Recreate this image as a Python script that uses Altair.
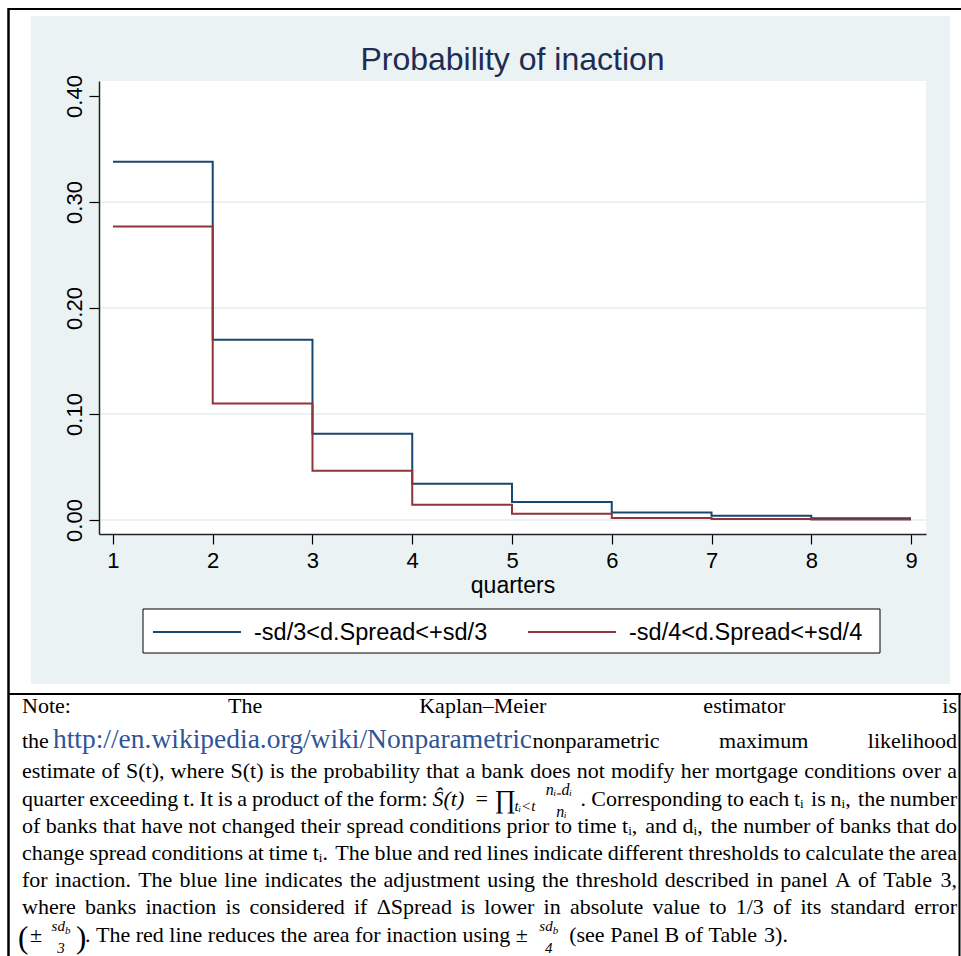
import altair as alt
import pandas as pd

# ---------------- chart data ----------------
quarters = [1, 2, 3, 4, 5, 6, 7, 8, 9]
inaction_sd3 = [0.338, 0.170, 0.0815, 0.0343, 0.0170, 0.0072, 0.0040, 0.0016, 0.0016]
inaction_sd4 = [0.277, 0.110, 0.0465, 0.0145, 0.0060, 0.0020, 0.0010, 0.0004, 0.0004]
series_names = ["-sd/3<d.Spread<+sd/3", "-sd/4<d.Spread<+sd/4"]
series_colors = ["#1a476f", "#90353b"]
y_tick_values = [0.0, 0.1, 0.2, 0.3, 0.4]
y_grid_values = [0.0, 0.1, 0.2, 0.3]
x_tick_values = quarters
chart_title = "Probability of inaction"
x_title = "quarters"

# ---------------- note text ----------------
note_line1 = "Note: The Kaplan–Meier estimator is"
note_url = "http://en.wikipedia.org/wiki/Nonparametric"
note_line2_rest = "maximum likelihood"
note_line3 = "estimate of S(t), where S(t) is the probability that a bank does not modify her mortgage conditions over a"
note_line4a = "quarter exceeding t. It is a product of the form:"
note_line4b = "Corresponding to each tᵢ is nᵢ, the number"
note_line5 = "of banks that have not changed their spread conditions prior to time tᵢ, and dᵢ, the number of banks that do"
note_line6 = "change spread conditions at time tᵢ. The blue and red lines indicate different thresholds to calculate the area"
note_line7 = "for inaction. The blue line indicates the adjustment using the threshold described in panel A of Table 3,"
note_line8 = "where banks inaction is considered if ΔSpread is lower in absolute value to 1/3 of its standard error"
note_line9a = "The red line reduces the area for inaction using"
note_line9b = "(see Panel B of Table 3)."

# ---------------- layout constants ----------------
W, H = 827, 453
OX, OY = 99, 81
PAGE_W, PAGE_H = 961, 956
BG = "#eaf2f3"
TITLE_C = "#1e2c54"
TEXT_C = "#000000"
LINK_C = "#2e5597"
NOTE_SIZE = 22
NOTE_L, NOTE_R = 22, 957
NOTE_BASELINES = [713, 748, 778, 806, 833, 860, 887, 914, 942]

# Times-compatible advance widths (per 1000 em) for the note layout
_chars = " !\"#$%&'()*+,-./0123456789:;<=>?@ABCDEFGHIJKLMNOPQRSTUVWXYZ[\\]^_`abcdefghijklmnopqrstuvwxyz{|}~"
_widths = ([250, 333, 408, 500, 500, 833, 778, 180, 333, 333, 500, 564, 250, 333, 250, 278] + [500] * 10 +
           [278, 278, 564, 564, 564, 444, 921,
            722, 667, 667, 722, 611, 556, 722, 722, 333, 389, 722, 611, 889, 722, 722, 556, 722, 667, 556, 611,
            722, 722, 944, 722, 722, 611,
            333, 278, 333, 469, 500, 333,
            444, 500, 444, 500, 444, 333, 500, 500, 278, 278, 500, 278, 778, 500, 500, 500, 500, 333, 389, 278,
            500, 500, 722, 500, 500, 444,
            480, 200, 480, 541])
AFM = dict(zip(_chars, _widths))
AFM.update({"–": 500, "Δ": 612, "±": 564, "ᵢ": 280, "₋": 400, "Ŝ": 556, "∏": 800})


def tw(text, size):
    return sum(AFM.get(ch, 500) for ch in text) * size / 1000.0


def run(t, s=NOTE_SIZE, it=False, c=TEXT_C, dy=0, w=None, pad=0):
    return {"k": "run", "t": t, "s": s, "it": it, "c": c, "dy": dy, "w": w, "pad": pad}


def frac(num, den, sub="", s=15, w=None, up=-13, down=11):
    return {"k": "frac", "num": num, "den": den, "sub": sub, "s": s, "w": w, "up": up, "down": down}


def width_of(item):
    if item["w"] is not None:
        return item["w"]
    if item["k"] == "run":
        return tw(item["t"], item["s"]) + item["pad"]
    return max(tw(item["num"], item["s"]) + tw(item["sub"], 11), tw(item["den"], item["s"])) + 4


def words(text):
    return [[run(w)] for w in text.split()]


pieces = []


def emit(item, x, y):
    if item["k"] == "run":
        pieces.append({"text": item["t"], "px": x + item["pad"] - OX, "py": y + item["dy"] - OY,
                       "size": item["s"], "color": item["c"], "it": item["it"], "al": "left"})
    else:
        wd = width_of(item)
        cx = x + wd / 2
        nw = tw(item["num"], item["s"]) + tw(item["sub"], 11)
        nx = cx - nw / 2
        pieces.append({"text": item["num"], "px": nx - OX, "py": y + item["up"] - OY,
                       "size": item["s"], "color": TEXT_C, "it": True, "al": "left"})
        if item["sub"]:
            pieces.append({"text": item["sub"], "px": nx + tw(item["num"], item["s"]) - OX,
                           "py": y + item["up"] + 3 - OY, "size": 11, "color": TEXT_C, "it": True, "al": "left"})
        pieces.append({"text": item["den"], "px": cx - OX, "py": y + item["down"] - OY,
                       "size": item["s"], "color": TEXT_C, "it": True, "al": "center"})


def layout(wlist, y, justify=True, x0=NOTE_L):
    ws = [sum(width_of(i) for i in wd) for wd in wlist]
    if justify and len(wlist) > 1:
        g = (NOTE_R - x0 - sum(ws)) / (len(wlist) - 1)
    else:
        g = NOTE_SIZE * 0.25
    x = x0
    for wd, wdw in zip(wlist, ws):
        cx = x
        for it in wd:
            emit(it, cx, y)
            cx += width_of(it)
        x += wdw + g


layout(words(note_line1), NOTE_BASELINES[0])
layout([[run("the", w=tw("the", NOTE_SIZE) + 4), run(note_url, s=27.5, c=LINK_C), run("nonparametric")]]
       + words(note_line2_rest), NOTE_BASELINES[1])
layout(words(note_line3), NOTE_BASELINES[2])
math_word = [run("Ŝ(t)", it=True, w=42), run("=", w=20, pad=1), run("∏", s=26, w=20, dy=2),
             run("tᵢ<t", s=15, it=True, dy=5, w=28), frac("nᵢ₋dᵢ", "nᵢ", s=16, w=38, up=-11, down=11),
             run(".", w=6)]
layout(words(note_line4a) + [math_word] + words(note_line4b), NOTE_BASELINES[3])
layout(words(note_line5), NOTE_BASELINES[4])
layout(words(note_line6), NOTE_BASELINES[5])
layout(words(note_line7), NOTE_BASELINES[6])
layout(words(note_line8), NOTE_BASELINES[7])
first_word = [run("(", s=31, dy=6, w=11), run("±", w=17, pad=1), frac("sd", "3", sub="b", w=30, up=-11, down=11),
              run(")", s=31, dy=6, w=9), run(".")]
pm_word = [run("±", w=18), frac("sd", "4", sub="b", w=30, up=-11, down=11)]
layout([first_word] + words(note_line9a) + [pm_word] + words(note_line9b), NOTE_BASELINES[8],
       justify=False, x0=18)

note_df = pd.DataFrame(pieces)

# ---------------- series table ----------------
df = pd.DataFrame({
    "quarter": quarters * 2,
    "value": inaction_sd3 + inaction_sd4,
    "series": [series_names[0]] * len(quarters) + [series_names[1]] * len(quarters),
})

one = pd.DataFrame({"k": [0]})


def px(x):
    return x - OX


def py(y):
    return y - OY


yscale = alt.Scale(domain=[-0.0132, 0.4142], nice=False, zero=False)
xscale = alt.Scale(domain=[0.86, 9.15], nice=False, zero=False)

y_axis = alt.Axis(values=y_tick_values, format=".2f", title=None, grid=False,
                  labelFont="Liberation Sans", labelFontSize=22, labelColor="#000",
                  labelAngle=270, labelAlign="center", labelBaseline="bottom",
                  labelPadding=3, labelFlush=False, labelOverlap=False,
                  tickSize=10, tickColor="#000", tickWidth=1.2,
                  domainColor="#222", domainWidth=1.5, zindex=1)
x_axis = alt.Axis(values=x_tick_values, format="d", title=x_title, grid=False,
                  labelFont="Liberation Sans", labelFontSize=22, labelColor="#000",
                  labelPadding=6, labelFlush=False, labelOverlap=False,
                  tickSize=10, tickColor="#000", tickWidth=1.2,
                  domainColor="#222", domainWidth=1.5,
                  titleFont="Liberation Sans", titleFontSize=23, titleFontWeight="normal",
                  titleColor="#000", titlePadding=3, zindex=1)

bg = alt.Chart(one).mark_rect(color=BG).encode(
    x=alt.value(px(31)), x2=alt.value(px(950)), y=alt.value(py(16)), y2=alt.value(py(684)))
plotbg = alt.Chart(one).mark_rect(color="white").encode(
    x=alt.value(0), x2=alt.value(W), y=alt.value(0), y2=alt.value(H))

grid = alt.Chart(pd.DataFrame({"g": y_grid_values})).mark_rule(color=BG, strokeWidth=2).encode(
    y=alt.Y("g:Q", scale=yscale, axis=y_axis), x=alt.value(0), x2=alt.value(W))

lines = alt.Chart(df).mark_line(interpolate="step-after", strokeWidth=2).encode(
    x=alt.X("quarter:Q", scale=xscale, axis=x_axis),
    y=alt.Y("value:Q", scale=yscale, axis=y_axis),
    color=alt.Color("series:N", scale=alt.Scale(domain=series_names, range=series_colors), legend=None),
)

# legend (box, line samples, labels)
LEG_X0, LEG_X1, LEG_Y0, LEG_Y1 = 143, 880, 609, 653
LEG_MID = 632
legend_box = alt.Chart(one).mark_rect(fill="white", stroke="#000", strokeWidth=1).encode(
    x=alt.value(px(LEG_X0)), x2=alt.value(px(LEG_X1)), y=alt.value(py(LEG_Y0)), y2=alt.value(py(LEG_Y1)))
legend_parts = []
for name, col, sx in zip(series_names, series_colors, [153, 528]):
    legend_parts.append(alt.Chart(one).mark_rule(color=col, strokeWidth=2).encode(
        x=alt.value(px(sx)), x2=alt.value(px(sx + 88)), y=alt.value(py(LEG_MID))))
    legend_parts.append(alt.Chart(one).mark_text(
        text=name, font="Liberation Sans", fontSize=23.5, color="#000",
        align="left", baseline="middle").encode(x=alt.value(px(sx + 101)), y=alt.value(py(LEG_MID + 1))))

title_layer = alt.Chart(one).mark_text(
    text=chart_title, font="Liberation Sans", fontSize=32, color=TITLE_C,
    align="center", baseline="alphabetic").encode(x=alt.value(W / 2), y=alt.value(py(70)))

note_layers = []
for italic in [False, True]:
    for al in ["left", "center"]:
        sub = note_df[(note_df["it"] == italic) & (note_df["al"] == al)]
        if len(sub) == 0:
            continue
        note_layers.append(
            alt.Chart(sub).mark_text(font="Liberation Serif", fontStyle="italic" if italic else "normal",
                                     align=al, baseline="alphabetic").encode(
                x=alt.X("px:Q", scale=None, axis=None),
                y=alt.Y("py:Q", scale=None, axis=None),
                text="text:N",
                size=alt.Size("size:Q", scale=None, legend=None),
                color=alt.Color("color:N", scale=None, legend=None),
            ))

border_top = alt.Chart(one).mark_rule(color="#000", strokeWidth=2).encode(
    x=alt.value(px(8)), x2=alt.value(px(961)), y=alt.value(py(9)))
border_left = alt.Chart(one).mark_rule(color="#000", strokeWidth=2.5).encode(
    x=alt.value(px(8.5)), y=alt.value(py(8)), y2=alt.value(py(956)))
border_sep = alt.Chart(one).mark_rule(color="#000", strokeWidth=2).encode(
    x=alt.value(px(8)), x2=alt.value(px(961)), y=alt.value(py(694)))
border_right = alt.Chart(one).mark_rule(color="#000", strokeWidth=2).encode(
    x=alt.value(px(959.5)), y=alt.value(py(694)), y2=alt.value(py(956)))

chart = alt.layer(
    bg, plotbg, grid, lines, legend_box, *legend_parts, title_layer, *note_layers,
    border_top, border_left, border_sep, border_right,
).properties(
    width=W, height=H,
    padding={"left": OX, "top": OY, "right": PAGE_W - OX - W, "bottom": PAGE_H - OY - H},
    autosize=alt.AutoSizeParams(type="none"),
    background="white",
).configure_view(strokeWidth=0)

chart.save("out.html", embed_options={"renderer": "svg", "actions": False})
